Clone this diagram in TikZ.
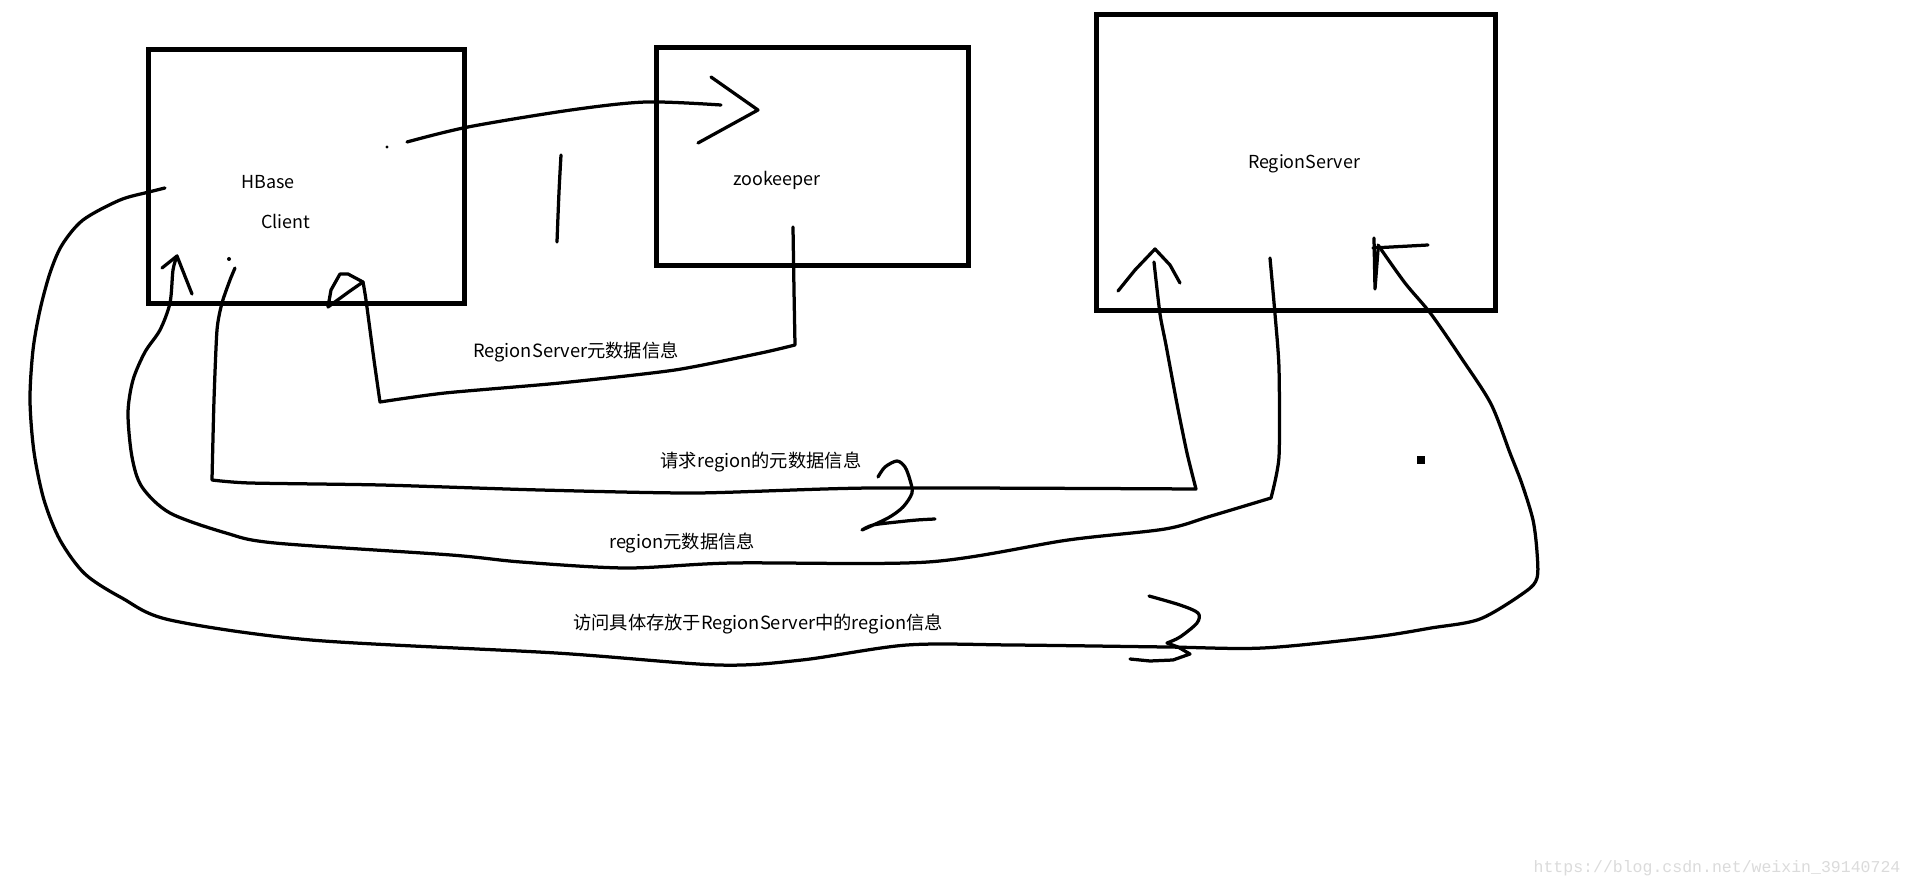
\documentclass[tikz,border=0pt]{standalone}
\usepackage{fontspec}
\setmainfont{Noto Sans CJK SC}
\setmonofont{Liberation Mono}
\usetikzlibrary{positioning}

\begin{document}
\begin{tikzpicture}
  [
    x=0.2mm, y=-0.2mm,
    Box/.style={rectangle, draw=black, line width=1mm, inner sep=0pt},
    Pen/.style={draw=black, line width=0.65mm, line cap=round, line join=round},
    Name/.style={inner sep=0pt, font=\fontsize{10.2}{12}\selectfont},
    Note/.style={inner sep=0pt, font=\fontsize{10.4}{12.5}\selectfont},
    Mark/.style={inner sep=0pt, text=black!14, font=\ttfamily\fontsize{9.4}{11}\selectfont}
  ]
  \fill[white] (0,0) rectangle (1914,889);
  \useasboundingbox (0,0) rectangle (1914,889);

  % Boxes (x, y)
  \node[Box, minimum width=63mm, minimum height=50.6mm] (hbasebox) at (306.5,176.5) {};
  \node[Box, minimum width=62.4mm, minimum height=43.4mm] (zkbox) at (812,156.5) {};
  \node[Box, minimum width=79.8mm, minimum height=59mm] (rsbox) at (1295.5,162.5) {};

  % Texts
  \node[Name] (hbase) at (268,182) {HBase};
  \node[Name] (client) at (286,221) {Client};
  \node[Name] (zk) at (777,180) {zookeeper};
  \node[Name, font=\fontsize{10.2}{12}\selectfont] (rs) at (1304,164) {RegionServer};
  \node[Note] (rsmeta) at (576,352) {RegionServer元数据信息};
  \node[Note] (ask) at (761,462) {请求region的元数据信息};
  \node[Note] (answer) at (682,543) {region元数据信息};
  \node[Note] (visit) at (758,624) {访问具体存放于RegionServer中的region信息};
  \node[Mark] (url) at (1717,868) {https://blog.csdn.net/weixin\_39140724};

  % Ends of the strokes
  \coordinate (c1s) at (407,142);
  \coordinate (c1e) at (721,105);
  \coordinate (c2s) at (793,227);
  \coordinate (c2e) at (363,282);
  \coordinate (c3s) at (235,268);
  \coordinate (c3e) at (1155,249);
  \coordinate (c4s) at (1270,258);
  \coordinate (c4e) at (177,256);
  \coordinate (c5s) at (165,188);
  \coordinate (c5e) at (1378,245);

  % Lines
  % client -> zookeeper
  \fill (387,147) circle (1.6);
  \path[Pen] plot[smooth, tension=0.5] coordinates {(c1s) (468,127) (571,110) (646,102) (c1e)};
  \path[Pen] (711,77) -- (758,110) -- (698,143);
  % 1
  \path[Pen] (561,155) .. controls (559,190) .. (557,242);
  % zookeeper -> client
  \path[Pen] plot[smooth, tension=0.4] coordinates {(c2s) (794,290) (795,345)}
    -- plot[smooth, tension=0.4] coordinates {(795,345) (761,353) (675,370) (560,383) (445,393) (380,402)}
    -- plot[smooth, tension=0.4] coordinates {(380,402) (374,360) (366,300) (c2e)};
  \path[Pen] (c2e) -- (348,274) -- (340,274) -- (331,290) -- (328,307) -- (350,291) -- cycle;
  % client -> RegionServer, ask
  \fill (229,259) circle (2);
  \path[Pen] plot[smooth, tension=0.4] coordinates {(c3s) (230,280) (222,303) (217,330) (214,400) (212,480)}
    -- plot[smooth, tension=0.4] coordinates {(212,480) (250,483) (381,485) (540,490) (696,493) (872,488) (1196,489)}
    -- plot[smooth, tension=0.4] coordinates {(1196,489) (1187,453) (1177,404) (1166,345) (1160,314) (1154,262)};
  \path[Pen] (1118,291) -- (1135,270) -- (c3e) -- (1170,265) -- (1180,283);
  % 2
  \path[Pen] plot[smooth, tension=0.5] coordinates {(878,477) (885,467) (897,461) (905,467) (910,480) (912,493) (903,507) (888,518) (862,530)}
    -- plot[smooth, tension=0.5] coordinates {(862,530) (873,525) (897,522) (917,520) (935,519)};
  % RegionServer -> client, answer
  \path[Pen] plot[smooth, tension=0.4] coordinates {(c4s) (1275,314) (1279,368) (1279,457) (1271,498)}
    -- plot[smooth, tension=0.5] coordinates {(1271,498) (1211,516) (1165,529) (1068,540) (928,562) (732,563) (626,568) (521,562) (451,555) (275,543) (226,533) (170,513) (142,487) (132,457) (128,413) (133,380) (145,352) (160,330) (170,303) (173,270) (c4e)};
  \path[Pen] (162,268) -- (c4e) -- (192,294);
  % client -> RegionServer, visit
  \path[Pen] plot[smooth, tension=0.5] coordinates {(c5s) (149,192) (120,200) (83,220) (62,245) (50,273) (40,310) (33,350) (30,400) (34,452) (44,500) (60,540) (85,574) (122,598) (170,620) (311,640) (556,653) (718,665) (802,660) (907,645) (1012,645) (1167,647) (1263,648) (1374,637) (1431,628) (1480,619) (1525,592) (1537,578) (1537,552) (1533,520) (1522,484) (1510,453) (1491,404) (1462,359) (1431,314) (1405,283) (c5e)};
  \path[Pen] plot[smooth, tension=0.5] coordinates {(1149,596) (1180,605) (1198,613) (1197,623) (1180,637) (1167,643)}
    -- (1178,647) -- (1190,654) -- (1173,660) -- (1150,661) -- (1130,659);
  \path[Pen] (1374,238) -- (1375,289) -- (1378,250);
  \path[Pen] (1373,248) -- (1428,245);
  \fill (1417,456) rectangle (1425,464);

\end{tikzpicture}
\end{document}
